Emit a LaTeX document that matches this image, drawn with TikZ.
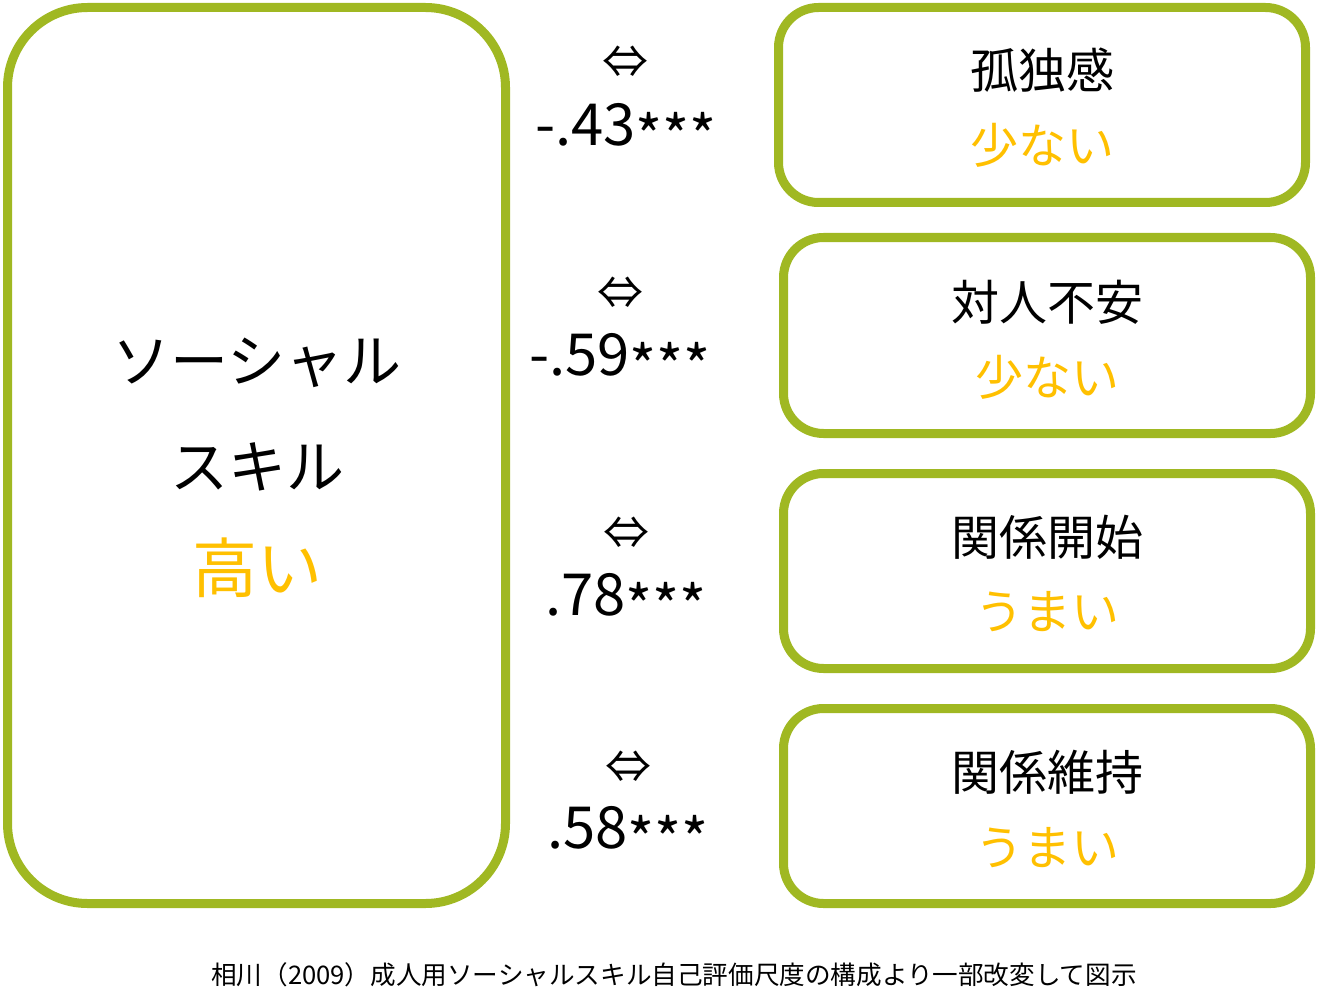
\documentclass[tikz,border=0pt]{standalone}
\usepackage{fontspec}
\setmainfont{Noto Sans CJK JP}
\definecolor{lgreen}{RGB}{160,184,34}
\definecolor{gold}{RGB}{255,192,0}
\newcommand{\stars}{\raisebox{-0.22em}{***}}
\begin{document}
\begin{tikzpicture}[x=1pt,y=-1pt,
  boxs/.style={draw=lgreen,line width=9pt,fill=white},
  jp/.style={inner sep=0pt,anchor=center,font=\fontsize{48}{48}\selectfont},
  jpo/.style={jp,text=gold},
  num/.style={inner sep=0pt,anchor=center,font=\fontsize{58}{58}\selectfont},
  arr/.style={inner sep=0pt,anchor=center,font=\fontsize{46}{46}\selectfont}]
\useasboundingbox (0,0) rectangle (1317,1003);
% left box
\draw[boxs,rounded corners=80pt] (7.5,7.5) rectangle (505.5,903.5);
\node[jp,font=\fontsize{58}{58}\selectfont] (l1) at (257,363) {ソーシャル};
\node[jp,font=\fontsize{58}{58}\selectfont] (l2) at (257,467) {スキル};
\node[jpo,font=\fontsize{65}{65}\selectfont] (l3) at (257,568) {高い};
% right boxes
\draw[boxs,rounded corners=40pt] (778.5,7.5) rectangle (1305.5,202.5);
\draw[boxs,rounded corners=40pt] (783.5,237.5) rectangle (1310.5,433.5);
\draw[boxs,rounded corners=40pt] (783.5,473.5) rectangle (1310.5,668.5);
\draw[boxs,rounded corners=40pt] (783.5,708.5) rectangle (1310.5,903.5);
\node[jp] (a1) at (1042,70) {孤独感};
\node[jpo] (b1) at (1042,145) {少ない};
\node[jp] (a2) at (1047,302) {対人不安};
\node[jpo] (b2) at (1047,377) {少ない};
\node[jp] (a3) at (1047,537) {関係開始};
\node[jpo] (b3) at (1047,612) {うまい};
\node[jp] (a4) at (1047,772) {関係維持};
\node[jpo] (b4) at (1047,848) {うまい};
% arrows and coefficients
\node[arr] (r1) at (625,62) {⇔};
\node[num] (n1) at (626,131) {-.43\stars};
\node[arr] (r2) at (620,293) {⇔};
\node[num] (n2) at (620,361) {-.59\stars};
\node[arr] (r3) at (626,533) {⇔};
\node[num] (n3) at (626,601) {.78\stars};
\node[arr] (r4) at (628,767) {⇔};
\node[num] (n4) at (628,834) {.58\stars};
% caption
\node[inner sep=0pt,anchor=center,font=\fontsize{25.6}{25.6}\selectfont] (cap) at (674,975) {相川（2009）成人用ソーシャルスキル自己評価尺度の構成より一部改変して図示};
\end{tikzpicture}
\end{document}
